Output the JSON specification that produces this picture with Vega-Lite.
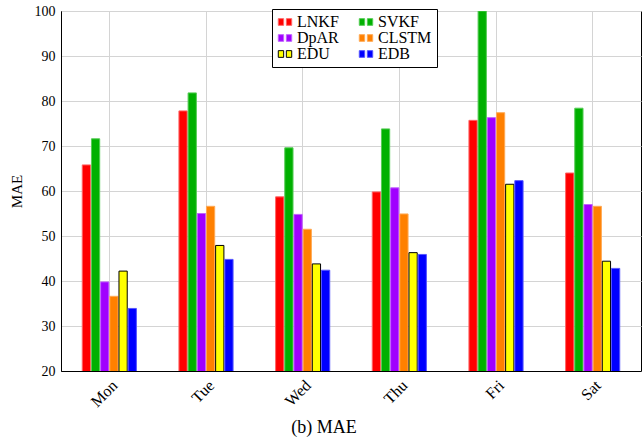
{
  "$schema": "https://vega.github.io/schema/vega-lite/v6.json",
  "width": 580,
  "height": 360,
  "autosize": {"type": "none"},
  "padding": {"left": 61, "top": 11, "right": 1, "bottom": 73},
  "background": "white",
  "config": {
    "font": "Liberation Serif",
    "view": {"stroke": "black", "strokeWidth": 1},
    "axis": {"gridColor": "#d4d4d4", "gridWidth": 1, "domainColor": "black", "labelColor": "black", "titleColor": "black", "ticks": false}
  },
  "title": {"text": "(b) MAE", "orient": "bottom", "anchor": "middle", "fontSize": 18, "fontWeight": "normal", "font": "Liberation Serif", "color": "black", "offset": 9, "dx": -27},
  "data": {
    "values": [
      {"day": "Mon", "method": "LNKF", "mae": 65.8},
      {"day": "Mon", "method": "SVKF", "mae": 71.6},
      {"day": "Mon", "method": "DpAR", "mae": 39.8},
      {"day": "Mon", "method": "CLSTM", "mae": 36.6},
      {"day": "Mon", "method": "EDU", "mae": 42.2},
      {"day": "Mon", "method": "EDB", "mae": 33.9},
      {"day": "Tue", "method": "LNKF", "mae": 77.8},
      {"day": "Tue", "method": "SVKF", "mae": 81.8},
      {"day": "Tue", "method": "DpAR", "mae": 55.0},
      {"day": "Tue", "method": "CLSTM", "mae": 56.6},
      {"day": "Tue", "method": "EDU", "mae": 47.9},
      {"day": "Tue", "method": "EDB", "mae": 44.8},
      {"day": "Wed", "method": "LNKF", "mae": 58.7},
      {"day": "Wed", "method": "SVKF", "mae": 69.6},
      {"day": "Wed", "method": "DpAR", "mae": 54.8},
      {"day": "Wed", "method": "CLSTM", "mae": 51.5},
      {"day": "Wed", "method": "EDU", "mae": 43.8},
      {"day": "Wed", "method": "EDB", "mae": 42.4},
      {"day": "Thu", "method": "LNKF", "mae": 59.8},
      {"day": "Thu", "method": "SVKF", "mae": 73.8},
      {"day": "Thu", "method": "DpAR", "mae": 60.7},
      {"day": "Thu", "method": "CLSTM", "mae": 54.9},
      {"day": "Thu", "method": "EDU", "mae": 46.3},
      {"day": "Thu", "method": "EDB", "mae": 45.9},
      {"day": "Fri", "method": "LNKF", "mae": 75.7},
      {"day": "Fri", "method": "SVKF", "mae": 100.0},
      {"day": "Fri", "method": "DpAR", "mae": 76.3},
      {"day": "Fri", "method": "CLSTM", "mae": 77.4},
      {"day": "Fri", "method": "EDU", "mae": 61.5},
      {"day": "Fri", "method": "EDB", "mae": 62.3},
      {"day": "Sat", "method": "LNKF", "mae": 64.0},
      {"day": "Sat", "method": "SVKF", "mae": 78.4},
      {"day": "Sat", "method": "DpAR", "mae": 57.0},
      {"day": "Sat", "method": "CLSTM", "mae": 56.6},
      {"day": "Sat", "method": "EDU", "mae": 44.4},
      {"day": "Sat", "method": "EDB", "mae": 42.8}
    ]
  },
  "mark": {"type": "bar", "strokeWidth": 1, "clip": true},
  "encoding": {
    "x": {
      "field": "day", "type": "nominal", "sort": ["Mon", "Tue", "Wed", "Thu", "Fri", "Sat"],
      "scale": {"paddingInner": 0.25, "paddingOuter": 0.125},
      "axis": {"title": null, "labelAngle": -45, "labelFontSize": 16, "grid": true, "bandPosition": 0.5, "labelPadding": 6, "domain": true}
    },
    "xOffset": {
      "field": "method", "type": "nominal", "sort": ["LNKF", "SVKF", "DpAR", "CLSTM", "EDU", "EDB"],
      "scale": {"paddingInner": 0.1, "paddingOuter": 1}
    },
    "y": {
      "field": "mae", "type": "quantitative",
      "scale": {"domain": [20, 100], "nice": false, "zero": false},
      "axis": {"title": "MAE", "values": [20, 30, 40, 50, 60, 70, 80, 90, 100], "labelFontSize": 14, "titleFontSize": 15, "titleFontWeight": "normal", "labelPadding": 6, "titlePadding": 10, "grid": true}
    },
    "color": {
      "field": "method", "type": "nominal",
      "scale": {"domain": ["LNKF", "SVKF", "DpAR", "CLSTM", "EDU", "EDB"], "range": ["#ff0000", "#00b000", "#a000ff", "#ff8000", "#ffff00", "#0000ff"]},
      "legend": {
        "title": null, "orient": "none", "legendX": 211, "legendY": -2, "columns": 2,
        "direction": "horizontal",
        "fillColor": "white", "strokeColor": "black", "padding": 5,
        "labelFontSize": 16, "labelColor": "black", "columnPadding": 18, "rowPadding": -2,
        "symbolType": "M-1,-0.5H-0.2V0.5H-1Z M0.2,-0.5H1V0.5H0.2Z",
        "symbolSize": 180, "symbolStrokeWidth": 1, "symbolOpacity": 1, "labelOffset": 4
      }
    },
    "stroke": {
      "field": "method", "type": "nominal",
      "scale": {"domain": ["LNKF", "SVKF", "DpAR", "CLSTM", "EDU", "EDB"], "range": ["#ff6666", "#55cc55", "#c060ff", "#ffaa55", "#000000", "#5555ff"]}
    }
  }
}
